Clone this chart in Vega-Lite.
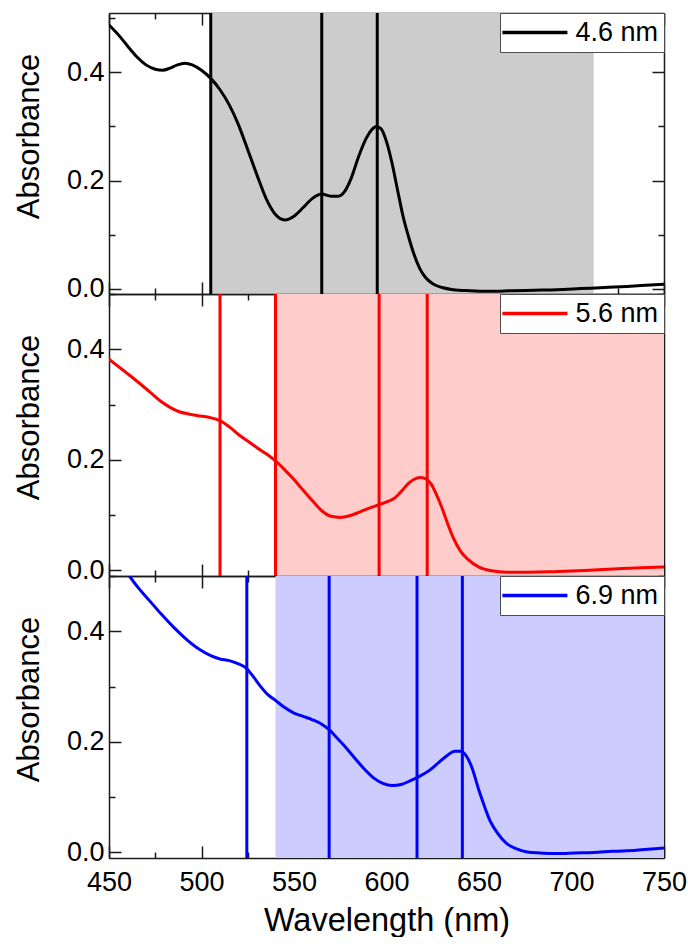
{
  "$schema": "https://vega.github.io/schema/vega-lite/v6.json",
  "padding": {"left": 13, "top": 4, "right": 0, "bottom": 0},
  "background": "#ffffff",
  "datasets": {
    "spectra": [
      {"sample": "4.6 nm", "wavelength": 450, "absorbance": 0.488},
      {"sample": "4.6 nm", "wavelength": 455, "absorbance": 0.470},
      {"sample": "4.6 nm", "wavelength": 460, "absorbance": 0.449},
      {"sample": "4.6 nm", "wavelength": 465, "absorbance": 0.429},
      {"sample": "4.6 nm", "wavelength": 470, "absorbance": 0.414},
      {"sample": "4.6 nm", "wavelength": 475, "absorbance": 0.406},
      {"sample": "4.6 nm", "wavelength": 479, "absorbance": 0.404},
      {"sample": "4.6 nm", "wavelength": 483, "absorbance": 0.408},
      {"sample": "4.6 nm", "wavelength": 487, "absorbance": 0.414},
      {"sample": "4.6 nm", "wavelength": 491, "absorbance": 0.417},
      {"sample": "4.6 nm", "wavelength": 495, "absorbance": 0.414},
      {"sample": "4.6 nm", "wavelength": 500, "absorbance": 0.404},
      {"sample": "4.6 nm", "wavelength": 505, "absorbance": 0.389},
      {"sample": "4.6 nm", "wavelength": 510, "absorbance": 0.368},
      {"sample": "4.6 nm", "wavelength": 515, "absorbance": 0.340},
      {"sample": "4.6 nm", "wavelength": 520, "absorbance": 0.303},
      {"sample": "4.6 nm", "wavelength": 525, "absorbance": 0.257},
      {"sample": "4.6 nm", "wavelength": 530, "absorbance": 0.210},
      {"sample": "4.6 nm", "wavelength": 535, "absorbance": 0.166},
      {"sample": "4.6 nm", "wavelength": 540, "absorbance": 0.137},
      {"sample": "4.6 nm", "wavelength": 545, "absorbance": 0.127},
      {"sample": "4.6 nm", "wavelength": 550, "absorbance": 0.134},
      {"sample": "4.6 nm", "wavelength": 555, "absorbance": 0.150},
      {"sample": "4.6 nm", "wavelength": 560, "absorbance": 0.167},
      {"sample": "4.6 nm", "wavelength": 565, "absorbance": 0.175},
      {"sample": "4.6 nm", "wavelength": 570, "absorbance": 0.171},
      {"sample": "4.6 nm", "wavelength": 574, "absorbance": 0.171},
      {"sample": "4.6 nm", "wavelength": 577, "absorbance": 0.178},
      {"sample": "4.6 nm", "wavelength": 581, "absorbance": 0.205},
      {"sample": "4.6 nm", "wavelength": 585, "absorbance": 0.245},
      {"sample": "4.6 nm", "wavelength": 589, "absorbance": 0.278},
      {"sample": "4.6 nm", "wavelength": 592, "absorbance": 0.294},
      {"sample": "4.6 nm", "wavelength": 594.5, "absorbance": 0.300},
      {"sample": "4.6 nm", "wavelength": 597, "absorbance": 0.296},
      {"sample": "4.6 nm", "wavelength": 600, "absorbance": 0.272},
      {"sample": "4.6 nm", "wavelength": 603, "absorbance": 0.232},
      {"sample": "4.6 nm", "wavelength": 606, "absorbance": 0.182},
      {"sample": "4.6 nm", "wavelength": 609, "absorbance": 0.133},
      {"sample": "4.6 nm", "wavelength": 612, "absorbance": 0.095},
      {"sample": "4.6 nm", "wavelength": 615, "absorbance": 0.062},
      {"sample": "4.6 nm", "wavelength": 618, "absorbance": 0.037},
      {"sample": "4.6 nm", "wavelength": 621, "absorbance": 0.021},
      {"sample": "4.6 nm", "wavelength": 625, "absorbance": 0.009},
      {"sample": "4.6 nm", "wavelength": 630, "absorbance": 0.002},
      {"sample": "4.6 nm", "wavelength": 636, "absorbance": -0.002},
      {"sample": "4.6 nm", "wavelength": 645, "absorbance": -0.004},
      {"sample": "4.6 nm", "wavelength": 655, "absorbance": -0.005},
      {"sample": "4.6 nm", "wavelength": 668, "absorbance": -0.004},
      {"sample": "4.6 nm", "wavelength": 680, "absorbance": -0.003},
      {"sample": "4.6 nm", "wavelength": 692, "absorbance": -0.002},
      {"sample": "4.6 nm", "wavelength": 705, "absorbance": 0.000},
      {"sample": "4.6 nm", "wavelength": 718, "absorbance": 0.002},
      {"sample": "4.6 nm", "wavelength": 730, "absorbance": 0.004},
      {"sample": "4.6 nm", "wavelength": 740, "absorbance": 0.006},
      {"sample": "4.6 nm", "wavelength": 750, "absorbance": 0.008},

      {"sample": "5.6 nm", "wavelength": 450, "absorbance": 0.382},
      {"sample": "5.6 nm", "wavelength": 455, "absorbance": 0.369},
      {"sample": "5.6 nm", "wavelength": 460, "absorbance": 0.356},
      {"sample": "5.6 nm", "wavelength": 466, "absorbance": 0.340},
      {"sample": "5.6 nm", "wavelength": 472, "absorbance": 0.323},
      {"sample": "5.6 nm", "wavelength": 478, "absorbance": 0.306},
      {"sample": "5.6 nm", "wavelength": 483, "absorbance": 0.295},
      {"sample": "5.6 nm", "wavelength": 488, "absorbance": 0.287},
      {"sample": "5.6 nm", "wavelength": 493, "absorbance": 0.283},
      {"sample": "5.6 nm", "wavelength": 498, "absorbance": 0.280},
      {"sample": "5.6 nm", "wavelength": 504, "absorbance": 0.277},
      {"sample": "5.6 nm", "wavelength": 510, "absorbance": 0.271},
      {"sample": "5.6 nm", "wavelength": 515, "absorbance": 0.260},
      {"sample": "5.6 nm", "wavelength": 520, "absorbance": 0.246},
      {"sample": "5.6 nm", "wavelength": 525, "absorbance": 0.234},
      {"sample": "5.6 nm", "wavelength": 530, "absorbance": 0.222},
      {"sample": "5.6 nm", "wavelength": 535, "absorbance": 0.211},
      {"sample": "5.6 nm", "wavelength": 540, "absorbance": 0.198},
      {"sample": "5.6 nm", "wavelength": 545, "absorbance": 0.182},
      {"sample": "5.6 nm", "wavelength": 549, "absorbance": 0.168},
      {"sample": "5.6 nm", "wavelength": 555, "absorbance": 0.145},
      {"sample": "5.6 nm", "wavelength": 560, "absorbance": 0.126},
      {"sample": "5.6 nm", "wavelength": 565, "absorbance": 0.108},
      {"sample": "5.6 nm", "wavelength": 570, "absorbance": 0.098},
      {"sample": "5.6 nm", "wavelength": 575, "absorbance": 0.096},
      {"sample": "5.6 nm", "wavelength": 580, "absorbance": 0.099},
      {"sample": "5.6 nm", "wavelength": 585, "absorbance": 0.105},
      {"sample": "5.6 nm", "wavelength": 590, "absorbance": 0.112},
      {"sample": "5.6 nm", "wavelength": 596, "absorbance": 0.119},
      {"sample": "5.6 nm", "wavelength": 600, "absorbance": 0.124},
      {"sample": "5.6 nm", "wavelength": 604, "absorbance": 0.130},
      {"sample": "5.6 nm", "wavelength": 608, "absorbance": 0.143},
      {"sample": "5.6 nm", "wavelength": 612, "absorbance": 0.158},
      {"sample": "5.6 nm", "wavelength": 615, "absorbance": 0.165},
      {"sample": "5.6 nm", "wavelength": 618, "absorbance": 0.168},
      {"sample": "5.6 nm", "wavelength": 621, "absorbance": 0.166},
      {"sample": "5.6 nm", "wavelength": 624, "absorbance": 0.157},
      {"sample": "5.6 nm", "wavelength": 627, "absorbance": 0.137},
      {"sample": "5.6 nm", "wavelength": 630, "absorbance": 0.113},
      {"sample": "5.6 nm", "wavelength": 633, "absorbance": 0.085},
      {"sample": "5.6 nm", "wavelength": 636, "absorbance": 0.060},
      {"sample": "5.6 nm", "wavelength": 640, "absorbance": 0.035},
      {"sample": "5.6 nm", "wavelength": 644, "absorbance": 0.020},
      {"sample": "5.6 nm", "wavelength": 650, "absorbance": 0.006},
      {"sample": "5.6 nm", "wavelength": 656, "absorbance": 0.000},
      {"sample": "5.6 nm", "wavelength": 665, "absorbance": -0.003},
      {"sample": "5.6 nm", "wavelength": 676, "absorbance": -0.003},
      {"sample": "5.6 nm", "wavelength": 688, "absorbance": -0.0025},
      {"sample": "5.6 nm", "wavelength": 700, "absorbance": -0.001},
      {"sample": "5.6 nm", "wavelength": 712, "absorbance": 0.001},
      {"sample": "5.6 nm", "wavelength": 725, "absorbance": 0.003},
      {"sample": "5.6 nm", "wavelength": 738, "absorbance": 0.005},
      {"sample": "5.6 nm", "wavelength": 750, "absorbance": 0.0065},

      {"sample": "6.9 nm", "wavelength": 461, "absorbance": 0.500},
      {"sample": "6.9 nm", "wavelength": 466, "absorbance": 0.478},
      {"sample": "6.9 nm", "wavelength": 472, "absorbance": 0.455},
      {"sample": "6.9 nm", "wavelength": 478, "absorbance": 0.432},
      {"sample": "6.9 nm", "wavelength": 485, "absorbance": 0.407},
      {"sample": "6.9 nm", "wavelength": 492, "absorbance": 0.385},
      {"sample": "6.9 nm", "wavelength": 499, "absorbance": 0.367},
      {"sample": "6.9 nm", "wavelength": 505, "absorbance": 0.356},
      {"sample": "6.9 nm", "wavelength": 510, "absorbance": 0.350},
      {"sample": "6.9 nm", "wavelength": 515, "absorbance": 0.347},
      {"sample": "6.9 nm", "wavelength": 520, "absorbance": 0.341},
      {"sample": "6.9 nm", "wavelength": 524, "absorbance": 0.334},
      {"sample": "6.9 nm", "wavelength": 528, "absorbance": 0.318},
      {"sample": "6.9 nm", "wavelength": 532, "absorbance": 0.300},
      {"sample": "6.9 nm", "wavelength": 536, "absorbance": 0.285},
      {"sample": "6.9 nm", "wavelength": 540, "absorbance": 0.275},
      {"sample": "6.9 nm", "wavelength": 545, "absorbance": 0.262},
      {"sample": "6.9 nm", "wavelength": 550, "absorbance": 0.252},
      {"sample": "6.9 nm", "wavelength": 555, "absorbance": 0.246},
      {"sample": "6.9 nm", "wavelength": 560, "absorbance": 0.240},
      {"sample": "6.9 nm", "wavelength": 565, "absorbance": 0.232},
      {"sample": "6.9 nm", "wavelength": 569, "absorbance": 0.222},
      {"sample": "6.9 nm", "wavelength": 573, "absorbance": 0.208},
      {"sample": "6.9 nm", "wavelength": 578, "absorbance": 0.190},
      {"sample": "6.9 nm", "wavelength": 583, "absorbance": 0.170},
      {"sample": "6.9 nm", "wavelength": 588, "absorbance": 0.151},
      {"sample": "6.9 nm", "wavelength": 593, "absorbance": 0.135},
      {"sample": "6.9 nm", "wavelength": 598, "absorbance": 0.125},
      {"sample": "6.9 nm", "wavelength": 603, "absorbance": 0.121},
      {"sample": "6.9 nm", "wavelength": 608, "absorbance": 0.123},
      {"sample": "6.9 nm", "wavelength": 613, "absorbance": 0.130},
      {"sample": "6.9 nm", "wavelength": 618, "absorbance": 0.138},
      {"sample": "6.9 nm", "wavelength": 623, "absorbance": 0.148},
      {"sample": "6.9 nm", "wavelength": 628, "absorbance": 0.162},
      {"sample": "6.9 nm", "wavelength": 633, "absorbance": 0.176},
      {"sample": "6.9 nm", "wavelength": 637, "absorbance": 0.183},
      {"sample": "6.9 nm", "wavelength": 640, "absorbance": 0.183},
      {"sample": "6.9 nm", "wavelength": 643, "absorbance": 0.175},
      {"sample": "6.9 nm", "wavelength": 646, "absorbance": 0.155},
      {"sample": "6.9 nm", "wavelength": 650, "absorbance": 0.112},
      {"sample": "6.9 nm", "wavelength": 653, "absorbance": 0.083},
      {"sample": "6.9 nm", "wavelength": 656, "absorbance": 0.057},
      {"sample": "6.9 nm", "wavelength": 660, "absorbance": 0.035},
      {"sample": "6.9 nm", "wavelength": 665, "absorbance": 0.016},
      {"sample": "6.9 nm", "wavelength": 670, "absorbance": 0.007},
      {"sample": "6.9 nm", "wavelength": 676, "absorbance": 0.001},
      {"sample": "6.9 nm", "wavelength": 683, "absorbance": -0.001},
      {"sample": "6.9 nm", "wavelength": 692, "absorbance": -0.002},
      {"sample": "6.9 nm", "wavelength": 702, "absorbance": -0.001},
      {"sample": "6.9 nm", "wavelength": 712, "absorbance": 0.000},
      {"sample": "6.9 nm", "wavelength": 722, "absorbance": 0.002},
      {"sample": "6.9 nm", "wavelength": 735, "absorbance": 0.004},
      {"sample": "6.9 nm", "wavelength": 750, "absorbance": 0.008}
    ],
    "bands": [
      {"sample": "4.6 nm", "from": 505, "to": 712},
      {"sample": "5.6 nm", "from": 540, "to": 750},
      {"sample": "6.9 nm", "from": 540, "to": 750}
    ],
    "peaks": [
      {"sample": "4.6 nm", "wavelength": 505},
      {"sample": "4.6 nm", "wavelength": 565},
      {"sample": "4.6 nm", "wavelength": 595},
      {"sample": "5.6 nm", "wavelength": 510},
      {"sample": "5.6 nm", "wavelength": 540},
      {"sample": "5.6 nm", "wavelength": 596},
      {"sample": "5.6 nm", "wavelength": 622},
      {"sample": "6.9 nm", "wavelength": 524.5},
      {"sample": "6.9 nm", "wavelength": 569},
      {"sample": "6.9 nm", "wavelength": 616.5},
      {"sample": "6.9 nm", "wavelength": 641}
    ]
  },
  "spacing": 0,
  "bounds": "flush",
  "vconcat": [
    {
      "width": 555,
      "height": 281,
      "layer": [
        {
          "data": {"name": "bands"},
          "transform": [{"filter": "datum.sample === '4.6 nm'"}],
          "mark": {"type": "rect", "color": "#cccccc"},
          "encoding": {
            "x": {"field": "from", "type": "quantitative", "scale": {"domain": [450, 750], "nice": false, "zero": false},
              "axis": {"orient": "top", "values": [450, 475, 500, 525, 550, 575, 600, 625, 650, 675, 700, 725, 750], "labels": false, "title": null,
                "tickSize": {"condition": {"test": "datum.value % 50 === 0", "value": -12}, "value": -6}}},
            "x2": {"field": "to"},
            "y": {"datum": 0.51, "type": "quantitative", "scale": {"domain": [-0.01, 0.51], "nice": false, "zero": false},
              "axis": {"orient": "right", "values": [0, 0.1, 0.2, 0.3, 0.4, 0.5], "labels": false, "title": null,
                "tickSize": {"condition": {"test": "round(datum.value * 10) % 2 === 0", "value": -12}, "value": -6}}},
            "y2": {"datum": -0.01}
          }
        },
        {
          "data": {"name": "peaks"},
          "transform": [{"filter": "datum.sample === '4.6 nm'"}],
          "mark": {"type": "rule", "color": "#000000", "strokeWidth": 3},
          "encoding": {"x": {"field": "wavelength", "type": "quantitative", "scale": {"domain": [450, 750], "nice": false, "zero": false}, "axis": null}}
        },
        {
          "data": {"name": "spectra"},
          "transform": [{"filter": "datum.sample === '4.6 nm'"}],
          "mark": {"type": "line", "interpolate": "monotone", "strokeWidth": 3, "clip": true},
          "encoding": {
            "x": {"field": "wavelength", "type": "quantitative", "scale": {"domain": [450, 750], "nice": false, "zero": false},
              "axis": {"orient": "bottom", "values": [450, 475, 500, 525, 550, 575, 600, 625, 650, 675, 700, 725, 750], "labels": false, "title": null,
                "tickSize": {"condition": {"test": "datum.value % 50 === 0", "value": -12}, "value": -6}}},
            "y": {"field": "absorbance", "type": "quantitative", "scale": {"domain": [-0.01, 0.51], "nice": false, "zero": false},
              "axis": {"orient": "left", "values": [0, 0.1, 0.2, 0.3, 0.4, 0.5], "format": ".1f", "title": "Absorbance",
                "labelExpr": "round(datum.value * 10) % 2 === 0 ? datum.label : ''", "labelPadding": 17,
                "titleX": -63.5, "titleY": 123,
                "tickSize": {"condition": {"test": "round(datum.value * 10) % 2 === 0", "value": -12}, "value": -6}}},
            "color": {"field": "sample", "type": "nominal", "scale": {"range": ["#000000"]}, "legend": {"title": null}}
          }
        }
      ],
      "resolve": {"axis": {"x": "independent", "y": "independent"}}
    },
    {
      "width": 555,
      "height": 282,
      "layer": [
        {
          "data": {"name": "bands"},
          "transform": [{"filter": "datum.sample === '5.6 nm'"}],
          "mark": {"type": "rect", "color": "#ffcccc"},
          "encoding": {
            "x": {"field": "from", "type": "quantitative", "scale": {"domain": [450, 750], "nice": false, "zero": false},
              "axis": {"orient": "top", "values": [450, 475, 500, 525, 550, 575, 600, 625, 650, 675, 700, 725, 750], "labels": false, "title": null,
                "tickSize": {"condition": {"test": "datum.value % 50 === 0", "value": -12}, "value": -6}}},
            "x2": {"field": "to"},
            "y": {"datum": 0.5, "type": "quantitative", "scale": {"domain": [-0.01, 0.5], "nice": false, "zero": false},
              "axis": {"orient": "right", "values": [0, 0.1, 0.2, 0.3, 0.4, 0.5], "labels": false, "title": null,
                "tickSize": {"condition": {"test": "round(datum.value * 10) % 2 === 0", "value": -12}, "value": -6}}},
            "y2": {"datum": -0.01}
          }
        },
        {
          "data": {"name": "peaks"},
          "transform": [{"filter": "datum.sample === '5.6 nm'"}],
          "mark": {"type": "rule", "color": "#ff0000", "strokeWidth": 3},
          "encoding": {"x": {"field": "wavelength", "type": "quantitative", "scale": {"domain": [450, 750], "nice": false, "zero": false}, "axis": null}}
        },
        {
          "data": {"name": "spectra"},
          "transform": [{"filter": "datum.sample === '5.6 nm'"}],
          "mark": {"type": "line", "interpolate": "monotone", "strokeWidth": 3, "clip": true},
          "encoding": {
            "x": {"field": "wavelength", "type": "quantitative", "scale": {"domain": [450, 750], "nice": false, "zero": false},
              "axis": {"orient": "bottom", "values": [450, 475, 500, 525, 550, 575, 600, 625, 650, 675, 700, 725, 750], "labels": false, "title": null,
                "tickSize": {"condition": {"test": "datum.value % 50 === 0", "value": -12}, "value": -6}}},
            "y": {"field": "absorbance", "type": "quantitative", "scale": {"domain": [-0.01, 0.5], "nice": false, "zero": false},
              "axis": {"orient": "left", "values": [0, 0.1, 0.2, 0.3, 0.4, 0.5], "format": ".1f", "title": "Absorbance",
                "labelExpr": "round(datum.value * 10) % 2 === 0 ? datum.label : ''", "labelPadding": 17,
                "titleX": -63.5, "titleY": 123,
                "tickSize": {"condition": {"test": "round(datum.value * 10) % 2 === 0", "value": -12}, "value": -6}}},
            "color": {"field": "sample", "type": "nominal", "scale": {"range": ["#ff0000"]}, "legend": {"title": null}}
          }
        }
      ],
      "resolve": {"axis": {"x": "independent", "y": "independent"}}
    },
    {
      "width": 555,
      "height": 282,
      "layer": [
        {
          "data": {"name": "bands"},
          "transform": [{"filter": "datum.sample === '6.9 nm'"}],
          "mark": {"type": "rect", "color": "#ccccff"},
          "encoding": {
            "x": {"field": "from", "type": "quantitative", "scale": {"domain": [450, 750], "nice": false, "zero": false},
              "axis": {"orient": "top", "values": [450, 475, 500, 525, 550, 575, 600, 625, 650, 675, 700, 725, 750], "labels": false, "title": null,
                "tickSize": {"condition": {"test": "datum.value % 50 === 0", "value": -12}, "value": -6}}},
            "x2": {"field": "to"},
            "y": {"datum": 0.5, "type": "quantitative", "scale": {"domain": [-0.01, 0.5], "nice": false, "zero": false},
              "axis": {"orient": "right", "values": [0, 0.1, 0.2, 0.3, 0.4, 0.5], "labels": false, "title": null,
                "tickSize": {"condition": {"test": "round(datum.value * 10) % 2 === 0", "value": -12}, "value": -6}}},
            "y2": {"datum": -0.01}
          }
        },
        {
          "data": {"name": "peaks"},
          "transform": [{"filter": "datum.sample === '6.9 nm'"}],
          "mark": {"type": "rule", "color": "#0000ff", "strokeWidth": 3},
          "encoding": {"x": {"field": "wavelength", "type": "quantitative", "scale": {"domain": [450, 750], "nice": false, "zero": false}, "axis": null}}
        },
        {
          "data": {"name": "spectra"},
          "transform": [{"filter": "datum.sample === '6.9 nm'"}],
          "mark": {"type": "line", "interpolate": "monotone", "strokeWidth": 3, "clip": true},
          "encoding": {
            "x": {"field": "wavelength", "type": "quantitative", "scale": {"domain": [450, 750], "nice": false, "zero": false},
              "axis": {"orient": "bottom", "values": [450, 475, 500, 525, 550, 575, 600, 625, 650, 675, 700, 725, 750], "title": "Wavelength (nm)",
                "labelExpr": "datum.value % 50 === 0 ? datum.label : ''", "labelPadding": 23.5, "titlePadding": 3, "titleFontSize": 32.5,
                "tickSize": {"condition": {"test": "datum.value % 50 === 0", "value": -12}, "value": -6}}},
            "y": {"field": "absorbance", "type": "quantitative", "scale": {"domain": [-0.01, 0.5], "nice": false, "zero": false},
              "axis": {"orient": "left", "values": [0, 0.1, 0.2, 0.3, 0.4, 0.5], "format": ".1f", "title": "Absorbance",
                "labelExpr": "round(datum.value * 10) % 2 === 0 ? datum.label : ''", "labelPadding": 17,
                "titleX": -63.5, "titleY": 123,
                "tickSize": {"condition": {"test": "round(datum.value * 10) % 2 === 0", "value": -12}, "value": -6}}},
            "color": {"field": "sample", "type": "nominal", "scale": {"range": ["#0000ff"]}, "legend": {"title": null}}
          }
        }
      ],
      "resolve": {"axis": {"x": "independent", "y": "independent"}}
    }
  ],
  "resolve": {"scale": {"color": "independent"}, "legend": {"color": "independent"}},
  "config": {
    "font": "Liberation Sans",
    "view": {"stroke": null},
    "axis": {
      "grid": false,
      "zindex": 1,
      "domainColor": "#1a1a1a",
      "domainWidth": 1.5,
      "tickColor": "#1a1a1a",
      "tickWidth": 1.5,
      "labelFont": "Liberation Sans",
      "labelFontSize": 27,
      "labelColor": "#000000",
      "labelFlush": false,
      "labelOverlap": false,
      "titleFont": "Liberation Sans",
      "titleFontSize": 31,
      "titleFontWeight": "normal",
      "titleColor": "#000000"
    },
    "legend": {
      "orient": "top-right",
      "offset": 0,
      "padding": 6,
      "fillColor": "#ffffff",
      "strokeColor": "#4d4d4d",
      "labelFont": "Liberation Sans",
      "labelFontSize": 27,
      "labelColor": "#000000",
      "symbolType": "M-4.6,0L4.6,0",
      "symbolSize": 200,
      "symbolStrokeWidth": 3.5,
      "symbolOffset": 15.4,
      "labelOffset": 27
    }
  }
}
